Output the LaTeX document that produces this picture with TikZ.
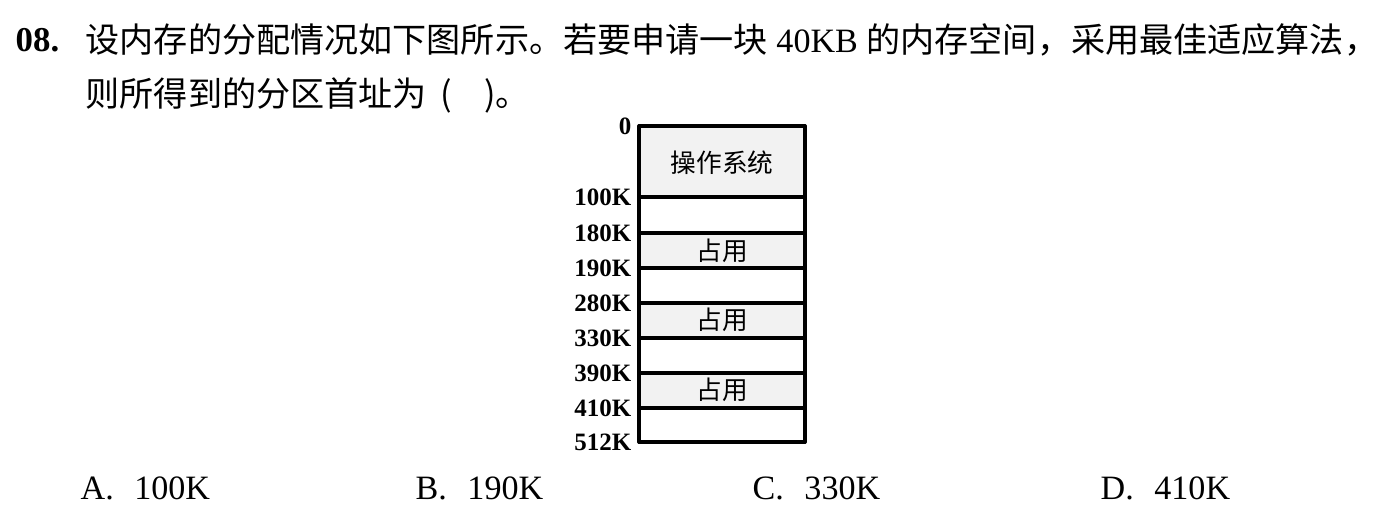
\documentclass[tikz,border=0pt]{standalone}
\usepackage{fontspec}
\setmainfont{Liberation Serif}
\newfontfamily\cjk{Noto Sans CJK SC}
\usetikzlibrary{positioning}

\tikzset{
  qtext/.style={anchor=west, inner sep=0pt, font=\fontsize{9.7}{11}\selectfont},
  addr/.style={anchor=east, inner sep=0pt, font=\fontsize{7.1}{8}\selectfont\bfseries},
  blk/.style={inner sep=0pt, font=\fontsize{7.3}{8}\selectfont\cjk},
  opt/.style={anchor=west, inner sep=0pt, font=\fontsize{9.7}{11}\selectfont},
  mem/.style={line width=0.9pt},
  used/.style={fill=black!5}
}

\begin{document}
\begin{tikzpicture}[x=0.01cm, y=-0.01cm, line cap=round, line join=round]
\useasboundingbox (0,0) rectangle (1399,519);

% Domanda
\node[qtext, font=\fontsize{9.9}{11}\selectfont\bfseries] (num) at (15,40) {08.};
\node[qtext] (q1) at (85,40) {{\cjk 设内存的分配情况如下图所示。若要申请一块} 40KB {\cjk 的内存空间，采用最佳适应算法，}};
\node[qtext] (q2) at (85,95) {{\cjk 则所得到的分区首址为}\hspace{0.4em}{\cjk (}\hspace{0.95em}{\cjk )。}};

% Blocchi occupati
\fill[used] (639,126) rectangle (805,197);
\fill[used] (639,233) rectangle (805,268);
\fill[used] (639,303) rectangle (805,338);
\fill[used] (639,373) rectangle (805,408);

% Memoria e indirizzi
\draw[mem] (639,126) rectangle (805,442);
\foreach \y/\a in {126/0, 197/100K, 233/180K, 268/190K, 303/280K, 338/330K, 373/390K, 408/410K, 442/512K}{
  \node[addr] (a\a) at (632,\y) {\a};
  \draw[mem] (639,\y) -- (805,\y);
}

% Etichette
\node[blk] (os) at (722,163) {操作系统};
\node[blk] (u1) at (722,251) {占用};
\node[blk] (u2) at (722,320) {占用};
\node[blk] (u3) at (722,390) {占用};

% Opzioni
\node[opt] (optA) at (80,488) {A.\hspace{0.6em}100K};
\node[opt] (optB) at (415,488) {B.\hspace{0.6em}190K};
\node[opt] (optC) at (752,488) {C.\hspace{0.6em}330K};
\node[opt] (optD) at (1100,488) {D.\hspace{0.6em}410K};

\end{tikzpicture}
\end{document}
